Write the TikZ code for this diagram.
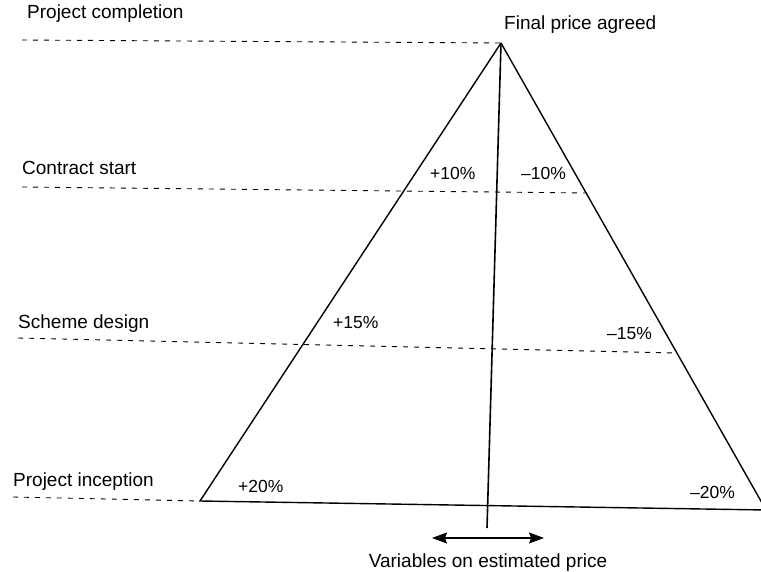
\documentclass[tikz,border=0pt]{standalone}
\usepackage{fontspec}
\setmainfont{Liberation Sans}
\usetikzlibrary{arrows.meta}
\begin{document}
\begin{tikzpicture}[x=1pt,y=-1pt,
  lbl/.style={inner sep=0pt,anchor=base west,font=\fontsize{19}{22}\selectfont},
  pct/.style={inner sep=0pt,anchor=base west,font=\fontsize{17.5}{20}\selectfont},
  side/.style={line width=1.4pt,black},
  stage/.style={line width=0.9pt,dash pattern=on 5pt off 6pt,black},
  axis/.style={line width=1.6pt,black},
  pricerange/.style={line width=1.1pt,>={Stealth[length=15pt,width=11pt,inset=2pt]},<->}]
  \useasboundingbox (0,0) rectangle (761,572);
  \clip (0,0) rectangle (761,572);

  % triangle corners
  \coordinate (apex) at (501,43);
  \coordinate (bl) at (200,501);
  \coordinate (br) at (766,510);

  % where the stage lines meet the sides
  \coordinate (pcL) at (22,40);
  \coordinate (csL) at (22,187);
  \coordinate (csR) at (587,193);
  \coordinate (sdL) at (18,338);
  \coordinate (sdR) at (676,353);
  \coordinate (piL) at (13,497);
  \coordinate (vbot) at (487,528);

  % stage lines
  \draw[stage] (pcL) -- (apex);
  \draw[stage] (csL) -- (csR);
  \draw[stage] (sdL) -- (sdR);
  \draw[stage] (piL) -- (bl);

  % the price triangle
  \draw[side] (apex) -- (bl) -- (br);
  \draw[side] (apex) -- (br);
  \draw[axis] (apex) -- (vbot);

  % stage labels
  \node[lbl] (pc) at (27,19) {Project completion};
  \node[lbl] (cs) at (22,175) {Contract start};
  \node[lbl] (sd) at (18,329) {Scheme design};
  \node[lbl] (pi) at (13,486) {Project inception};
  \node[lbl] (fpa) at (504,30) {Final price agreed};

  % tolerances
  \node[pct] (p10) at (430,180) {+10\%};
  \node[pct] (m10) at (521,180) {\textendash10\%};
  \node[pct] (p15) at (333,328) {+15\%};
  \node[pct] (m15) at (607,340) {\textendash15\%};
  \node[pct] (p20) at (238,492) {+20\%};
  \node[pct] (m20) at (690,498) {\textendash20\%};

  % range of the estimate
  \coordinate (aL) at (432,538);
  \coordinate (aR) at (544,538);
  \draw[pricerange] (aL) -- (aR);
  \node[lbl,anchor=base] (var) at (488,567) {Variables on estimated price};
\end{tikzpicture}
\end{document}
